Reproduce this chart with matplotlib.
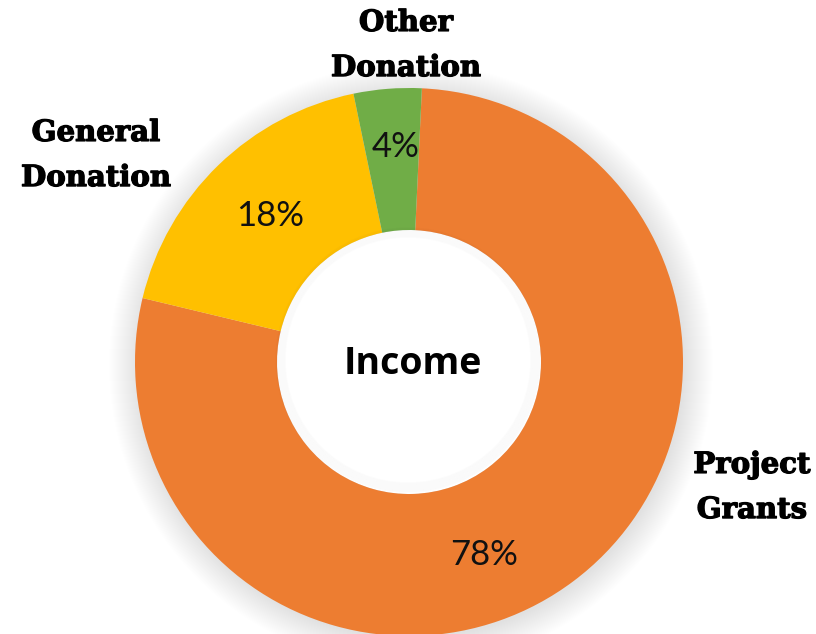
import numpy as np
import matplotlib.pyplot as plt
from matplotlib.patches import Circle
import matplotlib.patheffects as pe

# data
categories = ['Project\nGrants', 'General\nDonation', 'Other\nDonation']
shares = [78, 18, 4]
pct_labels = ['78%', '18%', '4%']
colors = ['#ED7D31', '#FFC000', '#70AD47']

W, H = 816, 634
fig = plt.figure(figsize=(W / 100, H / 100), dpi=100)
ax = fig.add_axes([0, 0, 1, 1])

cx, cy = 409, H - 362
r_out, r_in = 274, 132

# soft shadow around the ring
for i in range(30):
    ax.add_patch(Circle((cx + 2, cy - 3), r_out + 28 - i, color='black',
                        alpha=0.005, lw=0, zorder=0))
ax.add_patch(Circle((cx, cy), r_in, color='white', lw=0, zorder=1))

wedges, _ = ax.pie(shares, colors=colors, startangle=87.3, counterclock=False,
                   center=(cx, cy), radius=r_out,
                   wedgeprops=dict(width=r_out - r_in, linewidth=0), frame=True)
for w in wedges:
    w.set_zorder(2)
ax.set_xlim(0, W)
ax.set_ylim(0, H)
ax.set_aspect('equal')
ax.axis('off')

# faint inner shadow inside the hole
for i in range(10):
    ax.add_patch(Circle((cx - 1, cy + 2), r_in - i, fill=False,
                        edgecolor='black', alpha=0.01, lw=1.2, zorder=3))

# percentage labels
pct_pos = [(484, 555), (270, 216), (396, 147)]
for (x, y), t in zip(pct_pos, pct_labels):
    ax.text(x, H - y, t, ha='center', va='center', fontsize=25,
            family='Lato', color='#111111', zorder=5)

# category labels
stroke = [pe.withStroke(linewidth=0.9, foreground='black')]
cat_pos = [(752, 487), (96, 155), (406, 45)]
for (x, y), t in zip(cat_pos, categories):
    ax.text(x, H - y, t, ha='center', va='center', fontsize=21,
            family='DejaVu Serif', weight='bold', linespacing=1.7,
            color='black', zorder=5, path_effects=stroke)

ax.text(413, H - 364, 'Income', ha='center', va='center', fontsize=27,
        family='Open Sans', weight='bold', color='black', zorder=5)

fig.savefig('out.png', dpi=100, facecolor='white')
